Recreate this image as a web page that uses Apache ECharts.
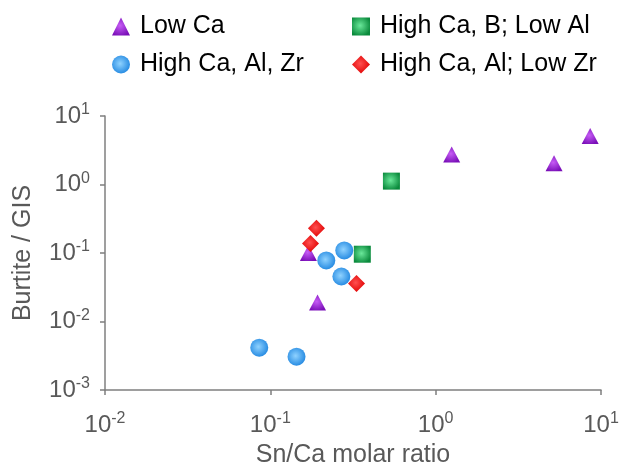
<!DOCTYPE html>
<html>
<head>
  <meta charset="UTF-8">
  <title>Burtite / GIS vs Sn/Ca</title>
  <style>
    body { margin: 0; background: #fff; }
    #chart { width: 622px; height: 467px; }
  </style>
  <script src="https://cdn.jsdelivr.net/npm/echarts@6/dist/echarts.min.js"></script>
</head>
<body>
<div id="chart"></div>
<script>
  // 讀圖估計值 [Sn/Ca, Burtite/GIS]
  const lowCa = [[0.17, 0.10], [0.193, 0.019], [1.25, 2.75], [5.2, 2.05], [8.6, 5.1]];
  const highCaAlZr = [[0.218, 0.078], [0.28, 0.109], [0.269, 0.0454], [0.0857, 0.00415], [0.144, 0.00306]];
  const highCaBLowAl = [[0.54, 1.12], [0.36, 0.096]];
  const highCaAlLowZr = [[0.19, 0.229], [0.175, 0.138], [0.332, 0.0359]];

  const seriesNames = ['Low Ca', 'High Ca, Al, Zr', 'High Ca, B; Low Al', 'High Ca, Al; Low Zr'];
  const xRange = [0.01, 10];
  const yRange = [0.001, 10];

  const font = "'Liberation Sans', Arial, sans-serif";
  const grey = '#595959';

  function radial(inner, outer) {
    return {
      type: 'radial', x: 0.45, y: 0.45, r: 0.6,
      colorStops: [{ offset: 0, color: inner }, { offset: 1, color: outer }]
    };
  }

  function powLabel(v) {
    const e = Math.round(Math.log10(v));
    return '{b|10}{s|' + e + '}';
  }
  const richLabel = {
    b: { fontSize: 24, fontFamily: font, color: grey, lineHeight: 28 },
    s: { fontSize: 16, fontFamily: font, color: grey, verticalAlign: 'top', lineHeight: 16 }
  };

  const legendText = { fontSize: 25, color: '#000', lineHeight: 18, padding: [0, 0, 0, 5] };

  const chart = echarts.init(document.getElementById('chart'));
  chart.setOption({
    animation: false,
    textStyle: { fontFamily: font },
    legend: [
      {
        data: [seriesNames[0], seriesNames[1]],
        orient: 'vertical', left: 107, top: 9,
        itemWidth: 18, itemHeight: 18, itemGap: 13,
        textStyle: legendText
      },
      {
        data: [seriesNames[2], seriesNames[3]],
        orient: 'vertical', left: 347, top: 9,
        itemWidth: 18, itemHeight: 18, itemGap: 13,
        textStyle: legendText
      }
    ],
    grid: { left: 105, right: 21, top: 116, bottom: 77, outerBoundsMode: 'none' },
    xAxis: {
      type: 'log', logBase: 10, min: xRange[0], max: xRange[1],
      name: 'Sn/Ca molar ratio', nameLocation: 'middle', nameGap: 53,
      nameTextStyle: { fontSize: 25, color: grey },
      axisLine: { lineStyle: { color: '#7f7f7f', width: 1.5 } },
      axisTick: { length: 5, lineStyle: { color: '#7f7f7f', width: 1.5 } },
      axisLabel: { margin: 21, formatter: powLabel, rich: richLabel },
      splitLine: { show: false },
      minorTick: { show: false }
    },
    yAxis: {
      type: 'log', logBase: 10, min: yRange[0], max: yRange[1],
      name: 'Burtite / GIS', nameLocation: 'middle', nameGap: 69, nameRotate: 90,
      nameTextStyle: { fontSize: 25, color: grey },
      axisLine: { lineStyle: { color: '#7f7f7f', width: 1.5 } },
      axisTick: { length: 5, lineStyle: { color: '#7f7f7f', width: 1.5 } },
      axisLabel: { margin: 15, formatter: powLabel, rich: richLabel },
      splitLine: { show: false }
    },
    series: [
      {
        name: seriesNames[0], type: 'scatter', data: lowCa,
        symbol: 'triangle', symbolSize: [17, 16],
        itemStyle: { color: radial('#c65cf5', '#7a0fb8'), opacity: 1 }
      },
      {
        name: seriesNames[1], type: 'scatter', data: highCaAlZr,
        symbol: 'circle', symbolSize: 18,
        itemStyle: { color: radial('#8fd2ff', '#1f86e0'), opacity: 1 }
      },
      {
        name: seriesNames[2], type: 'scatter', data: highCaBLowAl,
        symbol: 'rect', symbolSize: 17,
        itemStyle: { color: radial('#6ae89a', '#0a8a3c'), opacity: 1 }
      },
      {
        name: seriesNames[3], type: 'scatter', data: highCaAlLowZr,
        symbol: 'diamond', symbolSize: 17,
        itemStyle: { color: radial('#ff5050', '#e00000'), opacity: 1 }
      }
    ]
  });
</script>
</body>
</html>
